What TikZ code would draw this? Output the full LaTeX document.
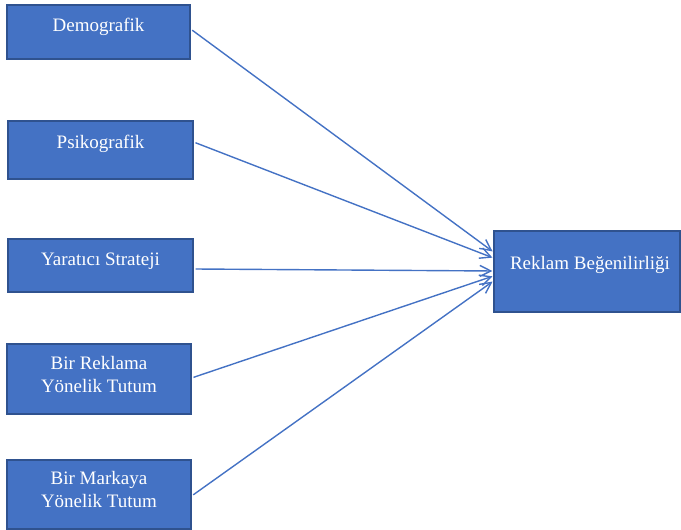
\documentclass[tikz,border=0pt]{standalone}
\usepackage{fontspec}
\setmainfont{Liberation Serif}
\usetikzlibrary{arrows.meta}
\definecolor{boxblue}{HTML}{4472C4}
\definecolor{boxedge}{HTML}{2F528F}
\newcommand{\boxtext}[2]{\raisebox{#1}[\height][\depth]{\begin{tabular}{@{}c@{}}#2\end{tabular}}}

\begin{document}
\begin{tikzpicture}[x=1pt, y=1pt,
    factor/.style={draw=boxedge, fill=boxblue, line width=1.2pt, text=white, font=\fontsize{19}{23}\selectfont, inner sep=0pt},
    link/.style={draw=boxblue, line width=1.4pt, -{Straight Barb[length=11pt,width=11pt]}, shorten <=2pt, shorten >=1pt}]
    \useasboundingbox (0,0) rectangle (681,530);
    \node[factor, minimum width=183pt, minimum height=54pt] (demo) at (98.5,498) {\boxtext{5.5pt}{Demografik}};
    \node[factor, minimum width=185pt, minimum height=58pt] (psiko) at (100.5,380) {\boxtext{6.5pt}{Psikografik}};
    \node[factor, minimum width=185pt, minimum height=53pt] (strat) at (100.5,264.5) {\boxtext{5pt}{Yaratıcı Strateji}};
    \node[factor, minimum width=184pt, minimum height=70pt] (reklam) at (99,151) {\boxtext{3pt}{Bir Reklama\\Yönelik Tutum}};
    \node[factor, minimum width=184pt, minimum height=69pt] (marka) at (99,35.5) {\boxtext{3pt}{Bir Markaya\\Yönelik Tutum}};
    \node[factor, minimum width=186pt, minimum height=81pt] (begeni) at (587,258.5) {\hspace*{6pt}\boxtext{7pt}{Reklam Beğenilirliği}};
    \draw[link] ([yshift=3pt]demo.east) -- ([yshift=19.5pt]begeni.west);
    \draw[link] ([yshift=8pt]psiko.east) -- ([yshift=13.5pt]begeni.west);
    \draw[link] ([yshift=-3.5pt]strat.east) -- ([yshift=0.5pt]begeni.west);
    \draw[link] ([yshift=1pt]reklam.east) -- ([yshift=-4.5pt]begeni.west);
    \draw[link] ([yshift=-1.5pt]marka.east) -- ([yshift=-9.5pt]begeni.west);
  \end{tikzpicture}
\end{document}
